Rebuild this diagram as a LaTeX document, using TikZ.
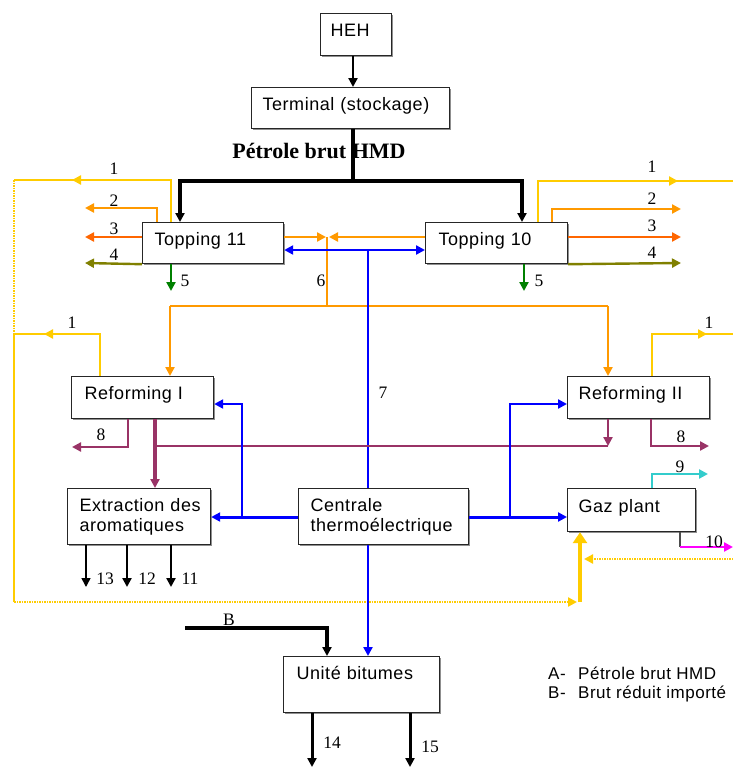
\documentclass[tikz,border=0pt]{standalone}
\usepackage{fontspec}
\setmainfont{Liberation Serif}
\setsansfont[LetterSpace=3]{Liberation Sans}
\usetikzlibrary{arrows.meta, shadows, decorations.markings}

\definecolor{yel}{HTML}{FFCC00}
\definecolor{orn}{HTML}{FF9900}
\definecolor{ored}{HTML}{FF6600}
\definecolor{olv}{HTML}{808000}
\definecolor{grn}{HTML}{008000}
\definecolor{pur}{HTML}{993366}
\definecolor{blu}{HTML}{0000FF}
\definecolor{cya}{HTML}{33CCCC}
\definecolor{mag}{HTML}{FF00FF}

\begin{document}
\begin{tikzpicture}[x=1pt, y=-1pt,
  box/.style={draw=black!85, line width=1.2pt, fill=white, anchor=north west,
    align=left, inner ysep=0pt,
    font=\sffamily\fontsize{18}{20}\selectfont,
    drop shadow={shadow xshift=1.6pt, shadow yshift=-1.6pt, fill=black!55, opacity=0.8}},
  oneline/.style={text height=13pt, text depth=#1},
  num/.style={font=\rmfamily\fontsize{17.5}{17.5}\selectfont, inner sep=0pt, anchor=base},
  legend/.style={font=\sffamily\fontsize{17}{17}\selectfont, inner sep=0pt, anchor=base west},
  arr/.style={-{Triangle[length=9pt, width=9pt]}},
  arrboth/.style={{Triangle[length=9pt, width=9pt]}-{Triangle[length=9pt, width=9pt]}},
  midarr/.style={postaction={decorate}, decoration={markings,
    mark=at position #1 with {\arrow{Triangle[length=9pt, width=9pt]}}}},
  ydots/.style={dash pattern=on 1.5pt off 1pt},
  prod/.style={line width=2.4pt},
]
\fill[white] (0,0) rectangle (733,768);
\useasboundingbox (0,0) rectangle (733,768);

% ---------- units ----------
\node[box, oneline=9pt, minimum width=71pt, minimum height=42pt, inner xsep=10pt, text width=51pt] (heh) at (320,13) {HEH};
\node[box, oneline=9pt, minimum width=198pt, minimum height=41pt, inner xsep=11pt, text width=176pt] (term) at (251,87) {Terminal (stockage)};
\node[box, oneline=9pt, minimum width=141pt, minimum height=41pt, inner xsep=12pt, text width=117pt] (t11) at (142,222) {Topping 11};
\node[box, oneline=9pt, minimum width=142pt, minimum height=41pt, inner xsep=13pt, text width=116pt] (t10) at (425,222) {Topping 10};
\node[box, oneline=9pt, minimum width=142pt, minimum height=42pt, inner xsep=13pt, text width=116pt] (rf1) at (71,376) {Reforming I};
\node[box, oneline=9pt, minimum width=142pt, minimum height=42pt, inner xsep=11pt, text width=120pt] (rf2) at (567,376) {Reforming II};
\node[box, minimum width=143pt, minimum height=56pt, inner xsep=12pt, text width=119pt] (ext) at (67,488) {\mbox{Extraction des}\\aromatiques};
\node[box, minimum width=170pt, minimum height=56pt, inner xsep=12pt, text width=146pt] (cen) at (298,488) {Centrale\\\mbox{thermoélectrique}};
\node[box, oneline=9pt, minimum width=128pt, minimum height=43pt, inner xsep=11pt, text width=106pt] (gaz) at (567,488) {Gaz plant};
\node[box, oneline=24pt, minimum width=156pt, minimum height=56pt, inner xsep=13pt, text width=130pt] (bit) at (283,656) {Unité bitumes};

% ---------- crude oil feed ----------
\draw[line width=2.6pt, arr] (353,0 |- heh.south) -- (353,0 |- term.north);
\node[font=\rmfamily\bfseries\fontsize{22}{22}\selectfont, inner sep=0pt, anchor=base] (pbh) at (319,158) {Pétrole brut HMD};
\coordinate (split) at (353,181);
\draw[line width=3.4pt] (term.south -| split) -- (split);
\draw[line width=3.4pt, arr] (split) -| (180,0 |- t11.north);
\draw[line width=3.4pt, arr] (split) -| (522,0 |- t10.north);

% ---------- Topping 11 products ----------
\coordinate (y1a) at (14,180);
\coordinate (o2l) at (85,208);
\coordinate (o3l) at (85,237);
\coordinate (o4l) at (85,263);
\coordinate (g5l) at (171,291);
\draw[yel, prod, midarr=141pt] (171,0 |- t11.north) |- (y1a);
\draw[orn, prod, arr] (157,0 |- t11.north) |- (o2l);
\draw[ored, prod, arr] (t11.west |- o3l) -- (o3l);
\draw[olv, prod, arr] (t11.south west) -- (o4l);
\draw[grn, prod, arr] (171,0 |- t11.south) -- (g5l);
\node[num] (l1a) at (114,174) {1};
\node[num] (l2a) at (114,206) {2};
\node[num] (l3a) at (114,234) {3};
\node[num] (l4a) at (114,260) {4};
\node[num] (l5a) at (185,286) {5};

% ---------- Topping 10 products ----------
\coordinate (y1b) at (733,181);
\coordinate (o2r) at (681,209);
\coordinate (o3r) at (681,237);
\coordinate (o4r) at (681,263);
\coordinate (g5r) at (524,291);
\draw[yel, prod, midarr=181pt] (538,0 |- t10.north) |- (y1b);
\draw[orn, prod, arr] (552,0 |- t10.north) |- (o2r);
\draw[ored, prod, arr] (t10.east |- o3r) -- (o3r);
\draw[olv, prod, arr] (t10.south east) -- (o4r);
\draw[grn, prod, arr] (524,0 |- t10.south) -- (g5r);
\node[num] (l1b) at (652,172) {1};
\node[num] (l2b) at (652,204) {2};
\node[num] (l3b) at (652,231) {3};
\node[num] (l4b) at (652,258) {4};
\node[num] (l5b) at (539,286) {5};

% ---------- stream 6 : naphtha to the reformers ----------
\coordinate (j6a) at (326,237);
\coordinate (j6b) at (329,237);
\coordinate (j6) at (327,237);
\coordinate (j6c) at (327,306);
\coordinate (r6a) at (170,306);
\coordinate (r6b) at (608,306);
\draw[orn, prod, arr] (t11.east |- j6a) -- (j6a);
\draw[orn, prod, arr] (t10.west |- j6b) -- (j6b);
\draw[orn, line width=1.5pt] (j6) -- (j6c);
\draw[orn, line width=1.6pt] (r6a) -- (r6b);
\draw[orn, line width=2.6pt, arr] (r6a) -- (rf1.north -| r6a);
\draw[orn, line width=2.6pt, arr] (r6b) -- (rf2.north -| r6b);
\node[num] (l6) at (321,286) {6};

% ---------- stream 7 : utilities ----------
\coordinate (b7) at (368,250);
\draw[blu, prod, arrboth] (t11.east |- b7) -- (t10.west |- b7);
\draw[blu, line width=1.5pt] (b7) -- (cen.north -| b7);
\node[num] (l7) at (383,398) {7};

% ---------- Reforming I products ----------
\coordinate (y1c) at (14,334);
\coordinate (ycorner) at (14,602);
\coordinate (ybase) at (580,602);
\coordinate (ybend) at (577,602);
\coordinate (p8l) at (72,447);
\draw[yel, prod, midarr=98pt] (100,0 |- rf1.north) |- (y1c);
\draw[yel, prod, ydots] (y1a) -- (y1c);
\draw[yel, prod] (y1c) -- (ycorner);
\draw[yel, prod, ydots, arr] (ycorner) -- (ybend);
\draw[pur, prod, arr] (128,0 |- rf1.south) |- (p8l);
\draw[pur, line width=3.2pt, arr] (155,0 |- rf1.south) -- (155,0 |- ext.north);
\node[num] (l1c) at (72,328) {1};
\node[num] (l8a) at (101,440) {8};

% ---------- Reforming II products ----------
\coordinate (y1d) at (733,334);
\coordinate (pj) at (608,446);
\coordinate (pk) at (155,446);
\coordinate (p8r) at (709,446);
\draw[yel, prod, midarr=97pt] (652,0 |- rf2.north) |- (y1d);
\draw[pur, line width=1.6pt] (pj) -- (pk);
\draw[pur, prod, arr] (rf2.south -| pj) -- (pj);
\draw[pur, prod, arr] (651,0 |- rf2.south) |- (p8r);
\node[num] (l1d) at (709,328) {1};
\node[num] (l8b) at (681,442) {8};

% ---------- power plant supply lines ----------
\coordinate (bl) at (242,517);
\coordinate (br) at (510,517);
\draw[blu, line width=3pt, arr] (cen.west |- bl) -- (ext.east |- bl);
\draw[blu, prod, arr] (bl) |- (rf1.east |- 0,404);
\draw[blu, line width=3pt, arr] (cen.east |- br) -- (gaz.west |- br);
\draw[blu, prod, arr] (br) |- (rf2.west |- 0,404);
\draw[blu, prod, arr] (368,0 |- cen.south) -- (368,0 |- bit.north);

% ---------- aromatics products ----------
\coordinate (a13) at (86,587);
\coordinate (a12) at (127,587);
\coordinate (a11) at (171,587);
\draw[line width=1.6pt, arr] (a13 |- ext.south) -- (a13);
\draw[line width=2.6pt, arr] (a12 |- ext.south) -- (a12);
\draw[line width=2.6pt, arr] (a11 |- ext.south) -- (a11);
\node[num] (l13) at (105,584) {13};
\node[num] (l12) at (147,584) {12};
\node[num] (l11) at (190,584) {11};

% ---------- gas plant ----------
\coordinate (c9) at (708,474);
\coordinate (m10) at (680,547);
\coordinate (m10e) at (733,547);
\coordinate (yr) at (733,559);
\coordinate (yrend) at (584,559);
\draw[cya, prod, arr] (652,0 |- gaz.north) |- (c9);
\draw[black!70, line width=1.6pt] (m10 |- gaz.south) -- (m10);
\draw[mag, prod, arr] (m10) -- (m10e);
\draw[yel, line width=4.8pt, -{Triangle[length=11pt, width=14pt]}] (ybase) -- (gaz.south -| ybase);
\draw[yel, prod, ydots, arr] (yr) -- (yrend);
\node[num] (l9) at (680,472) {9};
\node[num] (l10) at (714,547) {10};

% ---------- bitumen unit ----------
\coordinate (bin) at (185,628);
\coordinate (b14) at (312,767);
\coordinate (b15) at (410,767);
\draw[line width=3.2pt, arr] (bin) -| (327,0 |- bit.north);
\draw[line width=3pt, arr] (b14 |- bit.south) -- (b14);
\draw[line width=3pt, arr] (b15 |- bit.south) -- (b15);
\node[num] (lB) at (229,625) {B};
\node[num] (l14) at (332,748) {14};
\node[num] (l15) at (430,752) {15};

% ---------- legend ----------
\node[legend] (legA) at (548,679) {\makebox[30pt][l]{A-}Pétrole brut HMD};
\node[legend] (legB) at (548,698) {\makebox[30pt][l]{B-}Brut réduit importé};
\end{tikzpicture}
\end{document}
